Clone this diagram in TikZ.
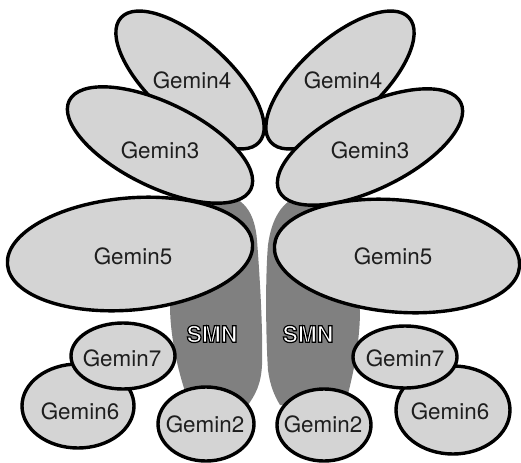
\documentclass[tikz,border=0pt]{standalone}
\usepackage{fontspec}
\setmainfont{TeX Gyre Heros}
\definecolor{lightg}{HTML}{D4D4D4}
\definecolor{smng}{HTML}{808080}
\definecolor{textg}{HTML}{1E1E1E}
\newcommand\outlinedtext[1]{\textcolor{white}{\special{pdf:literal direct 2 Tr 0 G 0.6 w}#1\special{pdf:literal direct 0 Tr}}}
\begin{document}
\begin{tikzpicture}[x=0.5pt,y=-0.5pt,
  gem/.style={fill=lightg, draw=black, line width=1.7pt},
  smnshape/.style={fill=smng},
  lab/.style={font=\fontsize{11.2}{13}\selectfont, text=textg, inner sep=0pt},
  smnlab/.style={font=\fontsize{11.4}{13}\selectfont\bfseries, inner sep=0pt}]
\useasboundingbox (0,0) rectangle (521,462);
% SMN shapes
\fill[smnshape] (213,194) .. controls (245,193) and (255,215) .. (257,240)
  .. controls (260,280) and (263,330) .. (262,365)
  .. controls (261,385) and (255,395) .. (248,405) -- (190,405)
  .. controls (180,380) and (170,340) .. (170,305) -- (200,230) -- cycle;
\fill[smnshape] (307,194) .. controls (285,197) and (272,215) .. (268,245)
  .. controls (265,280) and (266,340) .. (268,370)
  .. controls (270,385) and (274,395) .. (280,405) -- (345,405)
  .. controls (352,380) and (360,345) .. (360,310) -- (330,230) -- cycle;
% Gemin4
\draw[gem, shift={(190,80)}, rotate=-42] (0,0) ellipse [x radius=46.5pt, y radius=20pt];
\draw[gem, shift={(340,80)}, rotate=42] (0,0) ellipse [x radius=46.5pt, y radius=20pt];
% Gemin3
\draw[gem, shift={(160,145)}, rotate=-26] (0,0) ellipse [x radius=50.5pt, y radius=21pt];
\draw[gem, shift={(370,147)}, rotate=26] (0,0) ellipse [x radius=50.5pt, y radius=21pt];
% Gemin5
\draw[gem, shift={(130,254)}, rotate=5] (0,0) ellipse [x radius=61.5pt, y radius=28pt];
\draw[gem, shift={(397,256)}, rotate=-5] (0,0) ellipse [x radius=61.5pt, y radius=28pt];
% Gemin6
\draw[gem] (78,406) ellipse [x radius=28pt, y radius=21pt];
\draw[gem] (453,410) ellipse [x radius=28.5pt, y radius=22pt];
% Gemin7
\draw[gem] (123,356) ellipse [x radius=26pt, y radius=16.5pt];
\draw[gem] (405,357) ellipse [x radius=26pt, y radius=15.5pt];
% Gemin2
\draw[gem] (206,424) ellipse [x radius=24pt, y radius=18.5pt];
\draw[gem] (324,425) ellipse [x radius=23.5pt, y radius=18pt];
% labels
\node[lab] (g4l) at (192,80) {Gemin4};
\node[lab] (g4r) at (343,80) {Gemin4};
\node[lab] (g3l) at (160,150) {Gemin3};
\node[lab] (g3r) at (370,150) {Gemin3};
\node[lab] (g5l) at (133,256) {Gemin5};
\node[lab] (g5r) at (393,256) {Gemin5};
\node[smnlab] (smnl) at (212,334) {\outlinedtext{SMN}};
\node[smnlab] (smnr) at (308,334) {\outlinedtext{SMN}};
\node[lab] (g7l) at (122,358) {Gemin7};
\node[lab] (g7r) at (405,358) {Gemin7};
\node[lab] (g6l) at (80,411) {Gemin6};
\node[lab] (g6r) at (450,411) {Gemin6};
\node[lab] (g2l) at (205,424) {Gemin2};
\node[lab] (g2r) at (323,424) {Gemin2};
\end{tikzpicture}
\end{document}
